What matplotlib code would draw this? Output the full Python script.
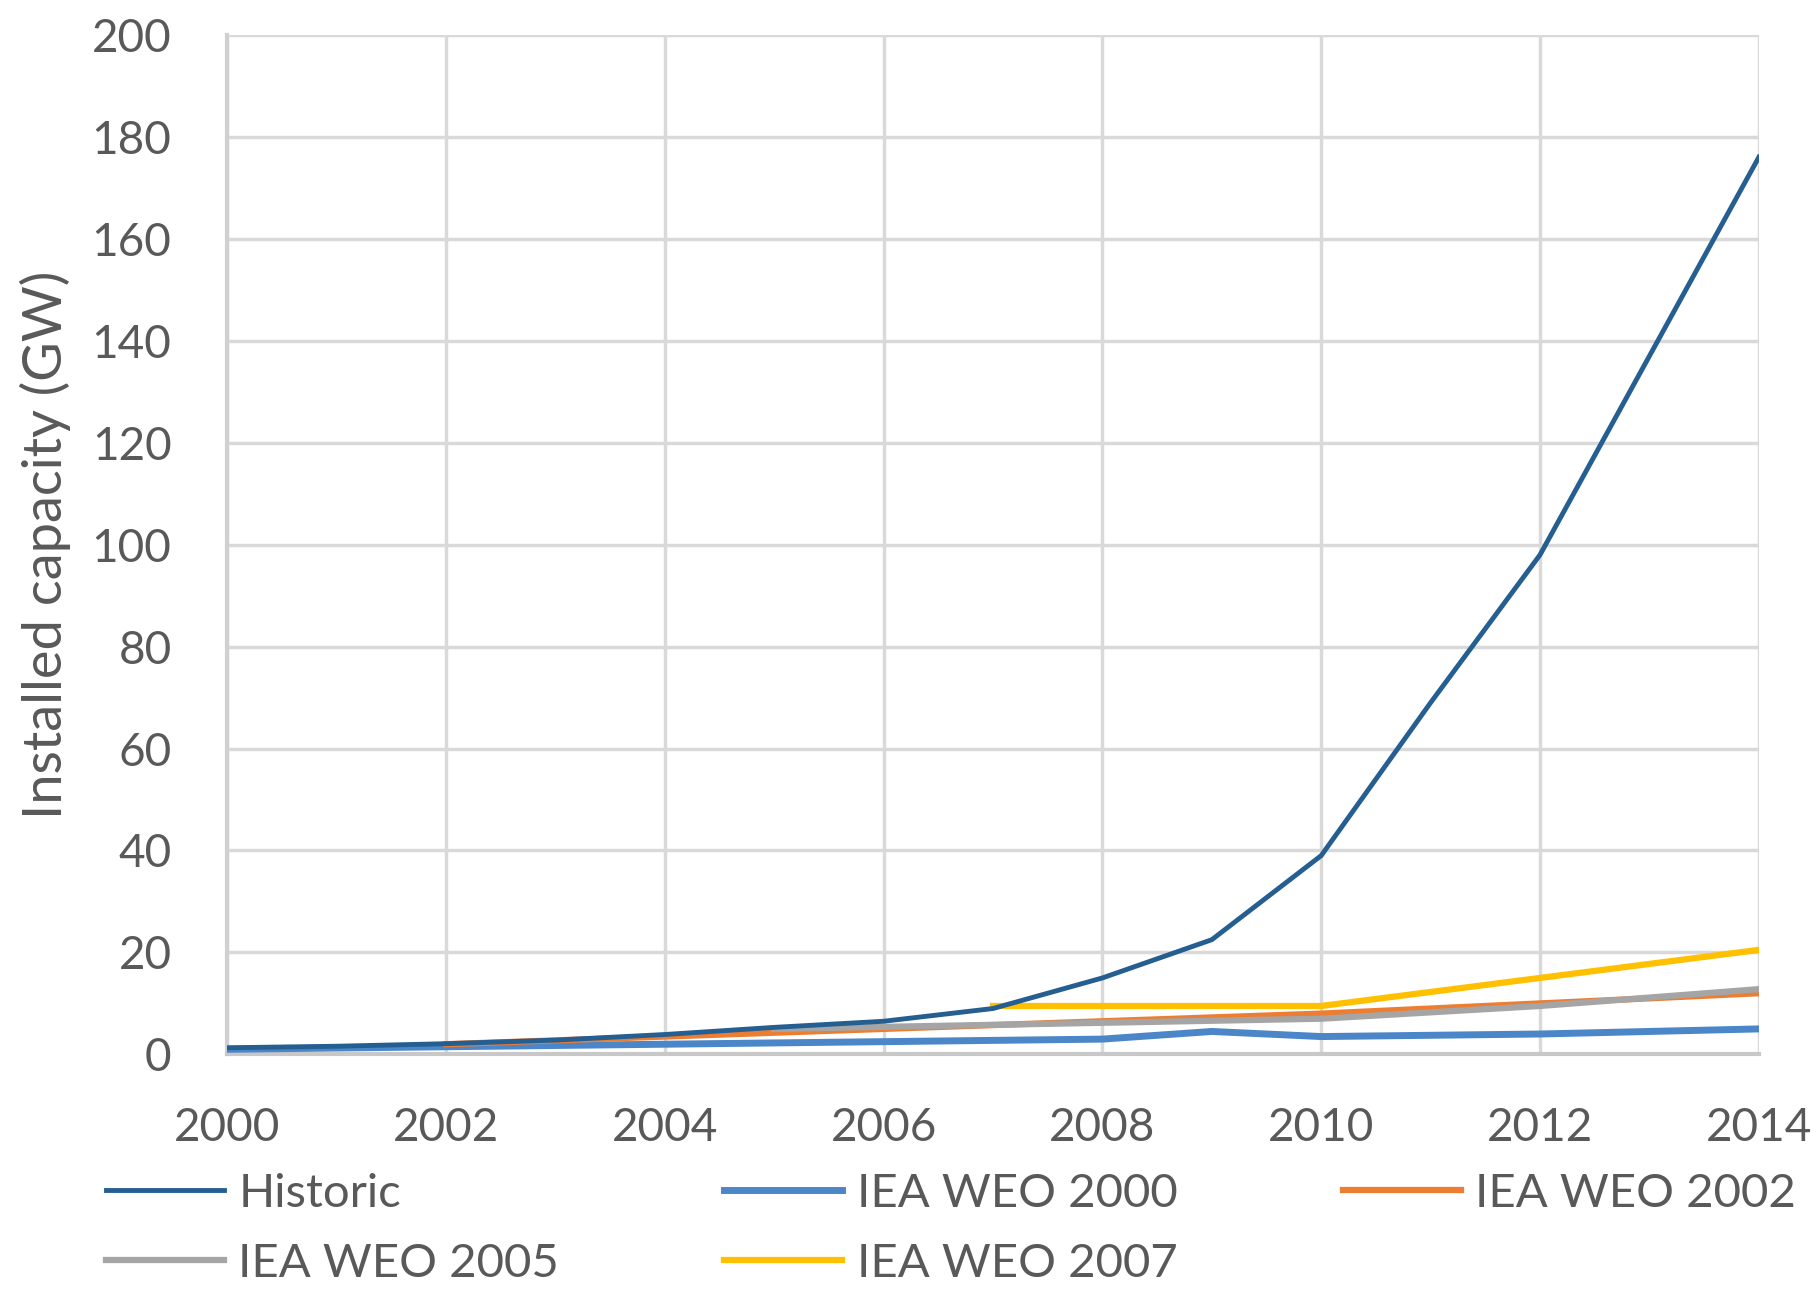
import matplotlib
matplotlib.use('Agg')
import matplotlib.pyplot as plt

plt.rcParams['font.family'] = ['Lato', 'DejaVu Sans']

TEXT_COLOR = '#595959'

years_hist = [2000, 2001, 2002, 2003, 2004, 2005, 2006, 2007, 2008, 2009, 2010, 2011, 2012, 2013, 2014]
historic = [1.3, 1.6, 2.1, 2.8, 3.9, 5.3, 6.5, 9.0, 15.0, 22.5, 39.0, 69.0, 98.0, 137.0, 176.0]

years_2000 = [2000, 2002, 2004, 2006, 2008, 2009, 2010, 2012, 2014]
weo_2000 = [1.0, 1.5, 2.0, 2.5, 3.0, 4.5, 3.5, 4.0, 5.0]

years_2002 = [2002, 2004, 2006, 2008, 2010, 2012, 2014]
weo_2002 = [2.0, 3.5, 5.0, 6.5, 8.0, 10.0, 12.0]

years_2005 = [2005, 2010, 2012, 2014]
weo_2005 = [5.0, 7.0, 9.5, 12.8]

years_2007 = [2007, 2010, 2012, 2014]
weo_2007 = [9.5, 9.5, 15.0, 20.5]

fig = plt.figure(figsize=(18.17, 12.89), dpi=100)
ax = fig.add_axes([0.125, 0.182, 0.843, 0.791])

h_2000, = ax.plot(years_2000, weo_2000, color='#4A86C8', lw=5, label='IEA WEO 2000', zorder=3)
h_2002, = ax.plot(years_2002, weo_2002, color='#ED7D31', lw=4.5, label='IEA WEO 2002', zorder=3)
h_2005, = ax.plot(years_2005, weo_2005, color='#A5A5A5', lw=4.5, label='IEA WEO 2005', zorder=3)
h_2007, = ax.plot(years_2007, weo_2007, color='#FFC000', lw=4.5, label='IEA WEO 2007', zorder=3)
h_hist, = ax.plot(years_hist, historic, color='#255E91', lw=3.5, label='Historic', zorder=4)

ax.set_xlim(2000, 2014)
ax.set_ylim(0, 200)
ax.set_xticks(range(2000, 2015, 2))
ax.set_yticks(range(0, 201, 20))
ax.grid(True, color='#D9D9D9', lw=2.5)
ax.set_axisbelow(True)
for s in ['top', 'right']:
    ax.spines[s].set_visible(False)
ax.spines['left'].set_color('#D0D0D0')
ax.spines['left'].set_linewidth(3)
ax.spines['bottom'].set_color('#C8C8C8')
ax.spines['bottom'].set_linewidth(3)
ax.tick_params(length=0, labelsize=33, colors=TEXT_COLOR)
ax.tick_params(axis='x', pad=38)
ax.tick_params(axis='y', pad=40)
ax.set_ylabel('Installed capacity (GW)', fontsize=39, color=TEXT_COLOR, labelpad=15)

# column-major fill so rows read: Historic, WEO 2000, WEO 2002 / WEO 2005, WEO 2007
leg_handles = [h_hist, h_2005, h_2000, h_2007, h_2002]
leg = fig.legend(leg_handles, [h.get_label() for h in leg_handles],
                 loc='upper left', bbox_to_anchor=(0.048, 0.105), ncol=3, frameon=False,
                 fontsize=34, handlelength=2.5, handletextpad=0.3, columnspacing=3.5,
                 labelspacing=0.6, borderaxespad=0)
for t in leg.get_texts():
    t.set_color(TEXT_COLOR)

fig.savefig('out.png', dpi=100)
